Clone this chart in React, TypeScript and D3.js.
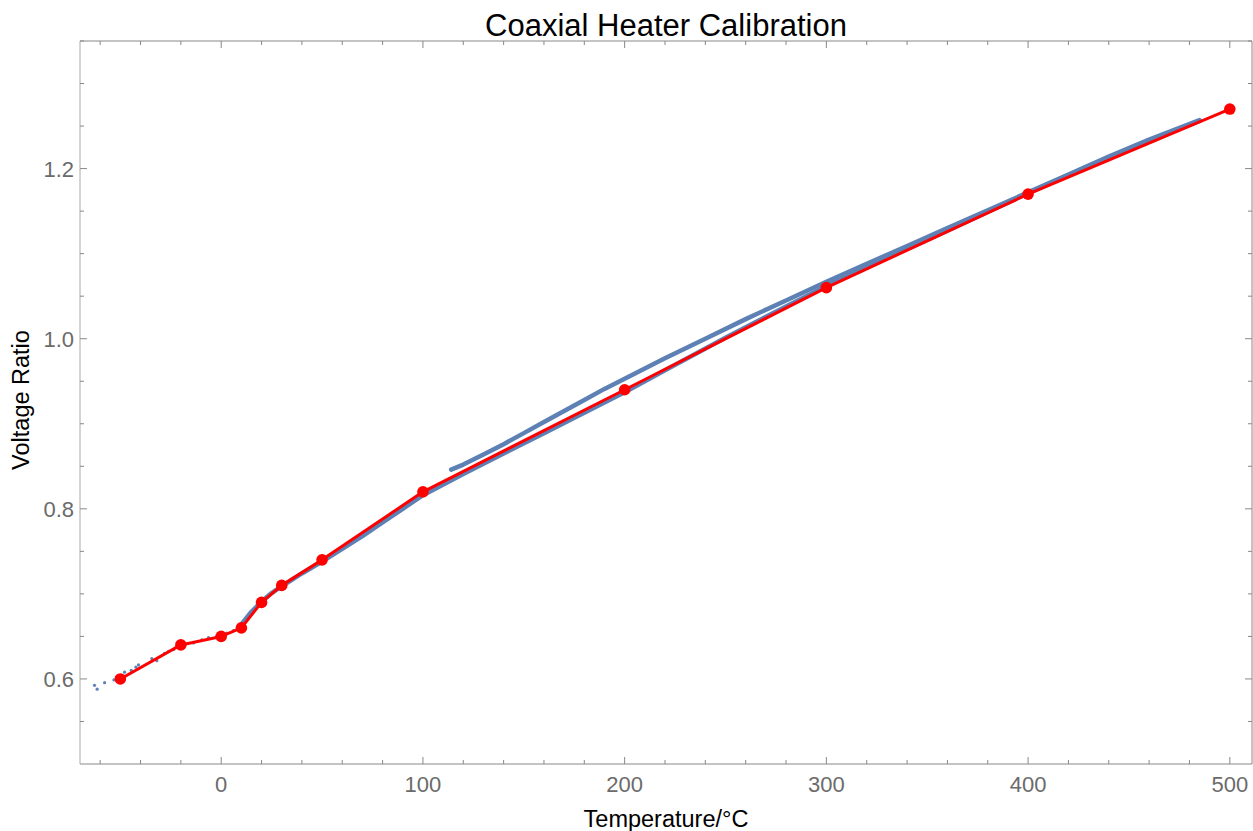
import React from 'react';
import * as d3 from 'd3';

// Calibration points (red)
const calTemps = [-50, -20, 0, 10, 20, 30, 50, 100, 200, 300, 400, 500];
const calRatios = [0.60, 0.64, 0.65, 0.66, 0.69, 0.71, 0.74, 0.82, 0.94, 1.06, 1.17, 1.27];

// Sparse low-temperature measurements (blue dots)
const lowTemps = [-62.8, -61.5, -57.8, -53.2, -51.4, -47.9, -44.6, -42.3, -41, -34.4, -31.9, -28.1, -26.1, -23.6, -13.7, -9.6, -6.3, -2.1, 2.8, 6.1];
const lowRatios = [0.5925, 0.588, 0.5956, 0.5988, 0.6027, 0.608, 0.610, 0.614, 0.6165, 0.624, 0.6215, 0.630, 0.6325, 0.6345, 0.6423, 0.6459, 0.6486, 0.651, 0.654, 0.6568];

// Dense measurement branch following the calibration (blue band)
const lowerTemps = [10, 15, 20, 25, 30, 40, 50, 60, 70, 80, 90, 100, 120, 140, 160, 180, 200, 220, 250, 280, 300, 330, 350, 380, 400, 430, 460, 485];
const lowerRatios = [0.664, 0.679, 0.691, 0.701, 0.709, 0.724, 0.738, 0.753, 0.768, 0.784, 0.800, 0.816, 0.841, 0.865, 0.889, 0.913, 0.937, 0.963, 1.001, 1.038, 1.062, 1.095, 1.116, 1.149, 1.171, 1.203, 1.233, 1.256];

// Upper measurement branch (blue band)
const upperTemps = [114, 120, 130, 140, 150, 160, 170, 180, 190, 200, 220, 240, 260, 280, 300, 320, 340, 360, 380, 400, 420, 440, 460, 485];
const upperRatios = [0.846, 0.852, 0.864, 0.876, 0.889, 0.902, 0.915, 0.928, 0.941, 0.953, 0.977, 1.000, 1.023, 1.045, 1.067, 1.088, 1.109, 1.130, 1.151, 1.172, 1.193, 1.214, 1.234, 1.257];

const xMajorTicks = [0, 100, 200, 300, 400, 500];
const yMajorTicks = [0.6, 0.8, 1.0, 1.2];

const title = 'Coaxial Heater Calibration';
const xLabel = 'Temperature/°C';
const yLabel = 'Voltage Ratio';

const W = 1253;
const H = 831;
const L = 80, R = 1252, T = 41, B = 764;
const BLUE = '#5E81B5';
const FONT = '"Liberation Sans", Arial, sans-serif';

export default function App() {
  const x = d3.scaleLinear().domain([-70, 511]).range([L, R]);
  const y = d3.scaleLinear().domain([0.5, 1.35]).range([B, T]);

  const xMinor = d3.range(-60, 511, 20).filter((v) => !xMajorTicks.includes(v));
  const yMinor = d3.range(0.55, 1.351, 0.05).map((v) => Math.round(v * 100) / 100).filter((v) => !yMajorTicks.some((m) => Math.abs(m - v) < 1e-6));

  const line = d3.line<[number, number]>().x((d) => x(d[0])).y((d) => y(d[1]));

  const lowerPts = lowerTemps.map((t, i) => [t, lowerRatios[i]] as [number, number]);
  const upperPts = upperTemps.map((t, i) => [t, upperRatios[i]] as [number, number]);
  const calPts = calTemps.map((t, i) => [t, calRatios[i]] as [number, number]);

  const frame = '#888';

  return (
    <svg width={W} height={H} style={{ position: 'absolute', left: 0, top: 0, background: '#fff' }}>
      <rect x={0} y={0} width={W} height={H} fill="#fff" />
      <defs>
        <clipPath id="plotclip">
          <rect x={L} y={T} width={R - L} height={B - T} />
        </clipPath>
      </defs>
      <g clipPath="url(#plotclip)">
        {lowTemps.map((t, i) => (
          <circle key={'l' + i} cx={x(t)} cy={y(lowRatios[i])} r={1.6} fill={BLUE} />
        ))}
        <path d={line(lowerPts) || ''} fill="none" stroke={BLUE} strokeWidth={4.5} strokeLinecap="round" strokeLinejoin="round" />
        <path d={line(upperPts) || ''} fill="none" stroke={BLUE} strokeWidth={4.5} strokeLinecap="round" strokeLinejoin="round" />
        <path d={line(calPts) || ''} fill="none" stroke="#FF0000" strokeWidth={3} strokeLinejoin="round" />
        {calPts.map((d, i) => (
          <circle key={'c' + i} cx={x(d[0])} cy={y(d[1])} r={5.8} fill="#FF0000" />
        ))}
      </g>

      {/* frame */}
      <line x1={L} y1={B} x2={R} y2={B} stroke={frame} />
      <line x1={L} y1={T} x2={R} y2={T} stroke={frame} />
      <line x1={L} y1={T} x2={L} y2={B} stroke="#aaa" />
      <line x1={R} y1={T} x2={R} y2={B} stroke={frame} />

      {/* x ticks */}
      {xMajorTicks.map((v) => (
        <g key={'xM' + v}>
          <line x1={x(v)} x2={x(v)} y1={B} y2={B - 7} stroke={frame} />
          <line x1={x(v)} x2={x(v)} y1={T} y2={T + 7} stroke={frame} />
          <text x={x(v)} y={792} textAnchor="middle" fontFamily={FONT} fontSize={22} fill="#6b6b6b">{v}</text>
        </g>
      ))}
      {xMinor.map((v) => (
        <g key={'xm' + v}>
          <line x1={x(v)} x2={x(v)} y1={B} y2={B - 4} stroke={frame} />
          <line x1={x(v)} x2={x(v)} y1={T} y2={T + 4} stroke={frame} />
        </g>
      ))}

      {/* y ticks */}
      {yMajorTicks.map((v) => (
        <g key={'yM' + v}>
          <line x1={L} x2={L + 7} y1={y(v)} y2={y(v)} stroke={frame} />
          <line x1={R} x2={R - 7} y1={y(v)} y2={y(v)} stroke={frame} />
          <text x={74} y={y(v)} dy="0.36em" textAnchor="end" fontFamily={FONT} fontSize={22} fill="#6b6b6b">{v.toFixed(1)}</text>
        </g>
      ))}
      {yMinor.map((v) => (
        <g key={'ym' + v}>
          <line x1={L} x2={L + 4} y1={y(v)} y2={y(v)} stroke={frame} />
          <line x1={R} x2={R - 4} y1={y(v)} y2={y(v)} stroke={frame} />
        </g>
      ))}

      <text x={(L + R) / 2} y={35.5} textAnchor="middle" fontFamily={FONT} fontSize={31} fill="#000">{title}</text>
      <text x={(L + R) / 2} y={827} textAnchor="middle" fontFamily={FONT} fontSize={23.5} fill="#000">{xLabel}</text>
      <text transform={`translate(29, 400) rotate(-90)`} textAnchor="middle" fontFamily={FONT} fontSize={23.5} fill="#000">{yLabel}</text>
    </svg>
  );
}
